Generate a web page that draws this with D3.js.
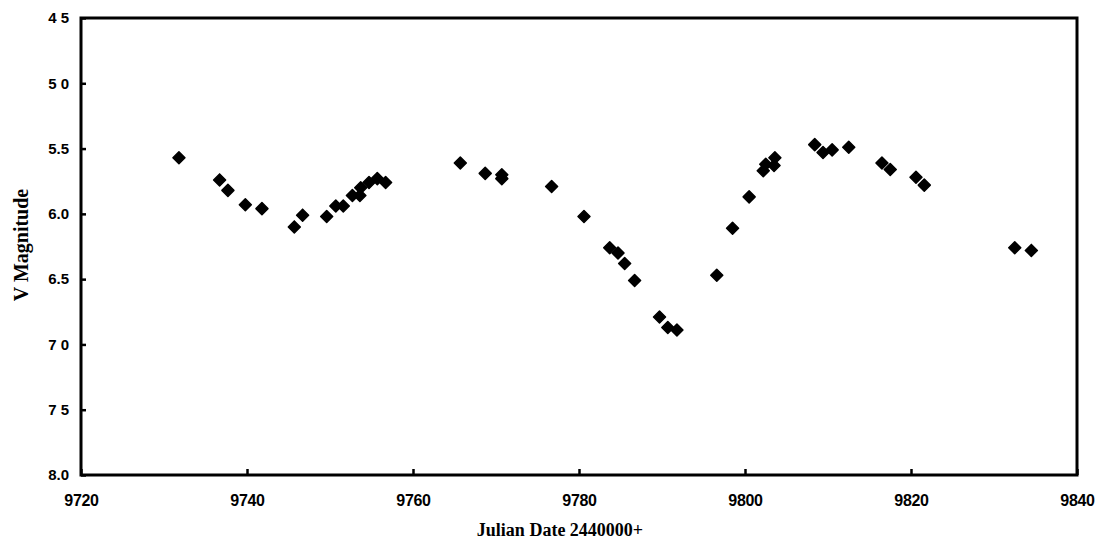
<!DOCTYPE html>
<html>
<head>
<meta charset="utf-8">
<script src="https://cdn.jsdelivr.net/npm/d3@7"></script>
<style>
  body { margin: 0; background: #fff; }
</style>
</head>
<body>
<script>
// observations: julian date (minus 2440000) and V magnitude
let jd = [9731.8, 9736.7, 9737.7, 9739.8, 9741.8, 9745.7, 9746.7, 9749.6, 9750.7, 9751.6,
          9752.7, 9753.6, 9753.7, 9754.7, 9755.7, 9756.7, 9765.7, 9768.7, 9770.7, 9770.7,
          9776.7, 9780.6, 9783.7, 9784.7, 9785.5, 9786.7, 9789.7, 9790.7, 9791.8, 9796.6,
          9798.5, 9800.5, 9802.2, 9802.5, 9803.5, 9803.6, 9808.4, 9809.4, 9810.5, 9812.5,
          9816.5, 9817.5, 9820.6, 9821.6, 9832.5, 9834.5];
let vmag = [5.57, 5.74, 5.82, 5.93, 5.96, 6.10, 6.01, 6.02, 5.94, 5.94,
            5.86, 5.86, 5.80, 5.76, 5.73, 5.76, 5.61, 5.69, 5.70, 5.73,
            5.79, 6.02, 6.26, 6.30, 6.38, 6.51, 6.79, 6.87, 6.89, 6.47,
            6.11, 5.87, 5.67, 5.62, 5.63, 5.57, 5.47, 5.53, 5.51, 5.49,
            5.61, 5.66, 5.72, 5.78, 6.26, 6.28];

let xTicks = [9720, 9740, 9760, 9780, 9800, 9820, 9840];
let yTicks = [4.5, 5.0, 5.5, 6.0, 6.5, 7.0, 7.5, 8.0];
let yTickLabels = ["4 5", "5 0", "5.5", "6.0", "6.5", "7 0", "7 5", "8.0"];

let svg = d3.select("body").append("svg")
  .attr("width", 1098)
  .attr("height", 544);

let margin = {top: 18, right: 21, bottom: 69, left: 81};
let width = 1098 - margin.left - margin.right;
let height = 544 - margin.top - margin.bottom;

let x = d3.scaleLinear().domain([9720, 9840]).range([0, width]);
let y = d3.scaleLinear().domain([4.5, 8.0]).range([0, height]);

let g = svg.append("g")
  .attr("transform", `translate(${margin.left},${margin.top})`);

// plot frame
g.append("rect")
  .attr("width", width)
  .attr("height", height)
  .attr("fill", "none")
  .attr("stroke", "#000")
  .attr("stroke-width", 3);

// y axis, ticks point inward
let yAxis = d3.axisLeft(y)
  .tickValues(yTicks)
  .tickSize(-5)
  .tickPadding(12)
  .tickFormat((d, i) => yTickLabels[i]);

g.append("g")
  .call(yAxis)
  .call(a => a.select(".domain").remove())
  .call(a => a.selectAll("line").attr("stroke-width", 2.5))
  .selectAll("text")
  .attr("font-family", "'Liberation Sans', Arial, sans-serif")
  .attr("font-weight", "bold")
  .attr("font-size", 15)
  .attr("fill", "#000");

// x axis
let xAxis = d3.axisBottom(x)
  .tickValues(xTicks)
  .tickSize(-6)
  .tickPadding(20)
  .tickFormat(d3.format("d"));

g.append("g")
  .attr("transform", `translate(0,${height})`)
  .call(xAxis)
  .call(a => a.select(".domain").remove())
  .call(a => a.selectAll("line").attr("stroke-width", 2.5))
  .selectAll("text")
  .attr("font-family", "'Liberation Sans', Arial, sans-serif")
  .attr("font-weight", "bold")
  .attr("font-size", 16)
  .attr("letter-spacing", -0.3)
  .attr("fill", "#000");

// data points as black diamonds
let diamond = d3.symbol().type(d3.symbolSquare).size(72);
g.selectAll(".pt")
  .data(jd)
  .enter().append("path")
  .attr("class", "pt")
  .attr("d", diamond)
  .attr("transform", (d, i) => `translate(${x(d)},${y(vmag[i])}) rotate(45)`)
  .attr("fill", "#000")
  .attr("stroke", "#000")
  .attr("stroke-width", 1.5)
  .attr("stroke-linejoin", "round");

// axis titles
svg.append("text")
  .attr("x", 560)
  .attr("y", 536)
  .attr("text-anchor", "middle")
  .attr("font-family", "'Liberation Serif', 'Times New Roman', serif")
  .attr("font-weight", "bold")
  .attr("font-size", 18)
  .text("Julian Date 2440000+");

svg.append("text")
  .attr("transform", `translate(28,245) rotate(-90)`)
  .attr("text-anchor", "middle")
  .attr("font-family", "'Liberation Serif', 'Times New Roman', serif")
  .attr("font-weight", "bold")
  .attr("font-size", 20)
  .text("V Magnitude");
</script>
</body>
</html>
